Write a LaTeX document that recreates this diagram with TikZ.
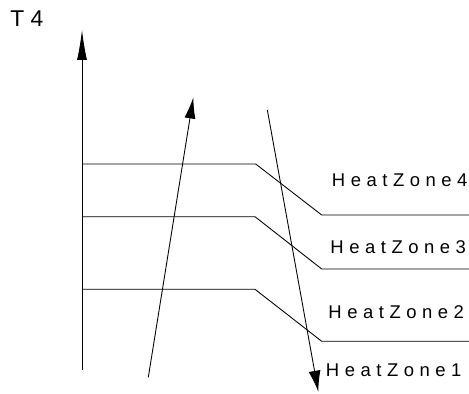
\documentclass[tikz,border=0pt]{standalone}
\usepackage{fontspec}
\usetikzlibrary{arrows.meta}
\setmainfont{Liberation Sans}
\newfontfamily\zonefont[LetterSpace=30]{Liberation Sans}

\begin{document}
\begin{tikzpicture}[font=\fontsize{10.5}{12}\zonefont, line width=0.5pt,
    zone/.style={anchor=west, inner sep=0pt}]
        \useasboundingbox (0, 0) rectangle (9.38, 7.88);

        \node(T4)[anchor=west, inner sep=0pt, font=\fontsize{13}{15}\selectfont] at (0.2, 7.51) {T 4};
        \coordinate(AxisBottom) at (1.64, 0.48);
        \coordinate(AxisTop) at (1.64, 7.28);
        \draw[-{Latex[length=0.6cm, width=0.2cm]}] (AxisBottom) -- (AxisTop);

        \coordinate(UpStart) at (2.966, 0.334);
        \coordinate(UpEnd) at (3.866, 5.93);
        \draw[-{Latex[length=0.42cm, width=0.22cm]}] (UpStart) -- (UpEnd);
        \coordinate(DownStart) at (5.347, 5.68);
        \coordinate(DownEnd) at (6.366, 0.046);
        \draw[-{Latex[length=0.42cm, width=0.24cm]}] (DownStart) -- (DownEnd);

        % zone boundaries
        \coordinate(ZoneFourA) at (1.64, 4.60);
        \coordinate(ZoneFourB) at (5.114, 4.60);
        \coordinate(ZoneFourC) at (6.434, 3.58);
        \coordinate(ZoneFourD) at (9.38, 3.58);
        \draw (ZoneFourA) -- (ZoneFourB) -- (ZoneFourC) -- (ZoneFourD);

        \coordinate(ZoneThreeA) at (1.64, 3.546);
        \coordinate(ZoneThreeB) at (5.10, 3.546);
        \coordinate(ZoneThreeC) at (6.434, 2.50);
        \coordinate(ZoneThreeD) at (9.38, 2.50);
        \draw (ZoneThreeA) -- (ZoneThreeB) -- (ZoneThreeC) -- (ZoneThreeD);

        \coordinate(ZoneTwoA) at (1.64, 2.094);
        \coordinate(ZoneTwoB) at (5.10, 2.094);
        \coordinate(ZoneTwoC) at (6.434, 1.054);
        \coordinate(ZoneTwoD) at (9.38, 1.054);
        \draw (ZoneTwoA) -- (ZoneTwoB) -- (ZoneTwoC) -- (ZoneTwoD);

        \node(HeatZoneFour)[zone] at (6.63, 4.28) {HeatZone4};
        \node(HeatZoneThree)[zone] at (6.60, 2.946) {HeatZone3};
        \node(HeatZoneTwo)[zone] at (6.56, 1.646) {HeatZone2};
        \node(HeatZoneOne)[zone] at (6.51, 0.48) {HeatZone1};
    \end{tikzpicture}
\end{document}
